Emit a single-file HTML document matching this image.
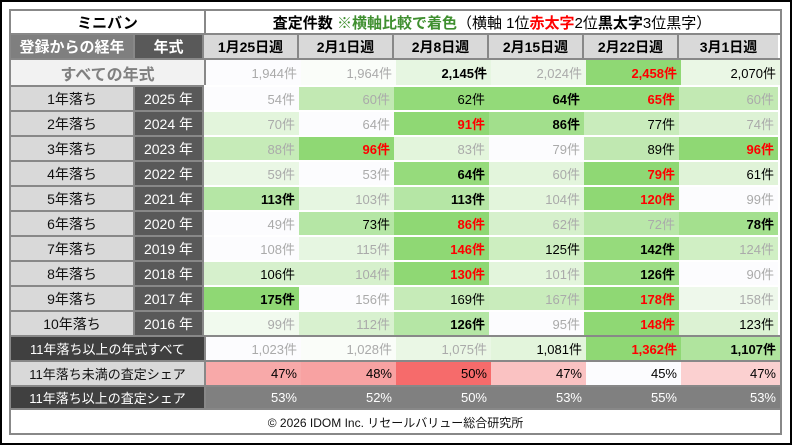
<!DOCTYPE html>
<html><head><meta charset="utf-8"><style>
*{box-sizing:border-box;margin:0;padding:0}
body{width:792px;height:446px;background:#fff;position:relative;overflow:hidden;font-family:"Liberation Sans","Noto Sans CJK JP",sans-serif}
#outer{position:absolute;left:0;top:0;width:792px;height:445px;border:2px solid #000}
#frame{position:absolute;left:9px;top:9px;width:773px;height:426px;border:2px solid #888;background:#fff}
.row{position:absolute;left:11px;width:769px;display:flex}
.c{height:100%;display:flex;align-items:center;justify-content:center;white-space:nowrap}
.l1{width:124px;border-right:2px solid #888}
.l2{width:69px;border-right:2px solid #888}
.l12{width:195px;border-right:2px solid #888}
.d{width:95px;justify-content:flex-end;padding-right:4px;font-size:13px;color:#000}
.d:last-child{width:99px}
.g{color:#aaa}.b{font-weight:bold}.r{color:#f00;font-weight:bold}
.lt{background:#d9d9d9;font-size:14px;color:#111}
.dk{background:#595959;color:#fff;font-size:14px}
.row.data .l1,.row.data .l2{border-top:2px solid #888}
.row.data .d{border-top:2px solid #fff}
</style></head><body>
<div id="outer"></div><div id="frame"></div>

<div class="row" style="top:11px;height:24px;border-bottom:2px solid #888">
<div class="c l12 b" style="font-size:15px">ミニバン</div>
<div class="c" style="width:572px;font-size:15px"><b>査定件数</b>&nbsp;<b style="color:#3f8f2f">※横軸比較で着色</b>（横軸 1位<b style="color:#f00">赤太字</b> 2位<b>黒太字</b> 3位黒字）</div>
</div>

<div class="row" style="top:35px;height:25px;border-bottom:2px solid #888">
<div class="c l1 b" style="background:#7f7f7f;color:#fff;font-size:15px">登録からの経年</div>
<div class="c l2 b" style="background:#595959;color:#fff;font-size:15px">年式</div>
<div class="c b" style="width:95px;background:#d9d9d9;border-right:2px solid #888;font-size:14px">1月25日週</div>
<div class="c b" style="width:95px;background:#d9d9d9;border-right:2px solid #888;font-size:14px">2月1日週</div>
<div class="c b" style="width:95px;background:#d9d9d9;border-right:2px solid #888;font-size:14px">2月8日週</div>
<div class="c b" style="width:95px;background:#d9d9d9;border-right:2px solid #888;font-size:14px">2月15日週</div>
<div class="c b" style="width:95px;background:#d9d9d9;border-right:2px solid #888;font-size:14px">2月22日週</div>
<div class="c b" style="width:99px;background:#d9d9d9;font-size:14px">3月1日週</div>
</div>

<div class="row" style="top:60px;height:25px">
<div class="c l12 b" style="background:#f2f2f2;color:#808080;font-size:16px">すべての年式</div>
<div class="c d g" style="background:#fcfcfe">1,944件</div>
<div class="c d g" style="background:#fafdf9">1,964件</div>
<div class="c d b" style="background:#e6f6e1">2,145件</div>
<div class="c d g" style="background:#eef8eb">2,024件</div>
<div class="c d r" style="background:#8fd874">2,458件</div>
<div class="c d" style="background:#eaf7e5">2,070件</div>
</div>

<div class="row data" style="top:85px;height:25px"><div class="c l1 lt">1年落ち</div><div class="c l2 dk">2025 年</div>
<div class="c d g" style="background:#fcfcfe">54件</div><div class="c d g" style="background:#c2e9b3">60件</div><div class="c d" style="background:#93da79">62件</div><div class="c d b" style="background:#93da79">64件</div><div class="c d r" style="background:#93da79">65件</div><div class="c d g" style="background:#c2e9b3">60件</div></div>

<div class="row data" style="top:110px;height:25px"><div class="c l1 lt">2年落ち</div><div class="c l2 dk">2024 年</div>
<div class="c d g" style="background:#e3f5dc">70件</div><div class="c d g" style="background:#fcfcfe">64件</div><div class="c d r" style="background:#8fd874">91件</div><div class="c d b" style="background:#a2df8c">86件</div><div class="c d" style="background:#c9ecbc">77件</div><div class="c d g" style="background:#ddf2d5">74件</div></div>

<div class="row data" style="top:135px;height:25px"><div class="c l1 lt">3年落ち</div><div class="c l2 dk">2023 年</div>
<div class="c d g" style="background:#c6ebb8">88件</div><div class="c d r" style="background:#8fd874">96件</div><div class="c d g" style="background:#e3f5dc">83件</div><div class="c d g" style="background:#fcfcfe">79件</div><div class="c d" style="background:#c0e8b1">89件</div><div class="c d r" style="background:#8fd874">96件</div></div>

<div class="row data" style="top:160px;height:25px"><div class="c l1 lt">4年落ち</div><div class="c l2 dk">2022 年</div>
<div class="c d g" style="background:#eaf7e5">59件</div><div class="c d g" style="background:#fcfcfe">53件</div><div class="c d b" style="background:#96db7c">64件</div><div class="c d g" style="background:#e3f5dc">60件</div><div class="c d r" style="background:#8fd874">79件</div><div class="c d" style="background:#e0f3d8">61件</div></div>

<div class="row data" style="top:185px;height:25px"><div class="c l1 lt">5年落ち</div><div class="c l2 dk">2021 年</div>
<div class="c d b" style="background:#b5e6a5">113件</div><div class="c d g" style="background:#e6f6e1">103件</div><div class="c d b" style="background:#b5e6a5">113件</div><div class="c d g" style="background:#e3f5dc">104件</div><div class="c d r" style="background:#8fd874">120件</div><div class="c d g" style="background:#fcfcfe">99件</div></div>

<div class="row data" style="top:210px;height:25px"><div class="c l1 lt">6年落ち</div><div class="c l2 dk">2020 年</div>
<div class="c d g" style="background:#fcfcfe">49件</div><div class="c d" style="background:#b5e6a5">73件</div><div class="c d r" style="background:#8fd874">86件</div><div class="c d g" style="background:#d6f0cc">62件</div><div class="c d g" style="background:#b9e7a9">72件</div><div class="c d b" style="background:#a4e08e">78件</div></div>

<div class="row data" style="top:235px;height:25px"><div class="c l1 lt">7年落ち</div><div class="c l2 dk">2019 年</div>
<div class="c d g" style="background:#fcfcfe">108件</div><div class="c d g" style="background:#e6f6e1">115件</div><div class="c d r" style="background:#8fd874">146件</div><div class="c d" style="background:#cdeec0">125件</div><div class="c d b" style="background:#96db7c">142件</div><div class="c d g" style="background:#d0efc4">124件</div></div>

<div class="row data" style="top:260px;height:25px"><div class="c l1 lt">8年落ち</div><div class="c l2 dk">2018 年</div>
<div class="c d" style="background:#d6f0cc">106件</div><div class="c d g" style="background:#d6f0cc">104件</div><div class="c d r" style="background:#8fd874">130件</div><div class="c d g" style="background:#e3f5dc">101件</div><div class="c d b" style="background:#9cdd84">126件</div><div class="c d g" style="background:#fcfcfe">90件</div></div>

<div class="row data" style="top:285px;height:25px"><div class="c l1 lt">9年落ち</div><div class="c l2 dk">2017 年</div>
<div class="c d b" style="background:#8fd874">175件</div><div class="c d g" style="background:#fcfcfe">156件</div><div class="c d" style="background:#c6ebb8">169件</div><div class="c d g" style="background:#c9ecbc">167件</div><div class="c d r" style="background:#8fd874">178件</div><div class="c d g" style="background:#eef8eb">158件</div></div>

<div class="row data" style="top:310px;height:25px"><div class="c l1 lt">10年落ち</div><div class="c l2 dk">2016 年</div>
<div class="c d g" style="background:#f1faee">99件</div><div class="c d g" style="background:#d8f1cf">112件</div><div class="c d b" style="background:#b5e6a5">126件</div><div class="c d g" style="background:#fcfcfe">95件</div><div class="c d r" style="background:#8fd874">148件</div><div class="c d" style="background:#dcf2d3">123件</div></div>

<div class="row" style="top:335px;height:25px;border-top:2px solid #888">
<div class="c l12" style="background:#404040;color:#fff;font-size:13px">11年落ち以上の年式すべて</div>
<div class="c d g" style="background:#fcfcfe">1,023件</div><div class="c d g" style="background:#fafdf9">1,028件</div><div class="c d g" style="background:#eaf7e5">1,075件</div><div class="c d" style="background:#e3f5dc">1,081件</div><div class="c d r" style="background:#8fd874">1,362件</div><div class="c d b" style="background:#b0e49e">1,107件</div></div>

<div class="row" style="top:360px;height:25px;border-top:2px solid #888">
<div class="c l12" style="background:#d9d9d9;color:#111;font-size:13px">11年落ち未満の査定シェア</div>
<div class="c d" style="background:#f8a9a9">47%</div><div class="c d" style="background:#f8a2a2">48%</div><div class="c d" style="background:#f66b6b">50%</div><div class="c d" style="background:#fac2c2">47%</div><div class="c d" style="background:#fcfcfe">45%</div><div class="c d" style="background:#fbd0d0">47%</div></div>

<div class="row" style="top:385px;height:25px;border-top:2px solid #888;border-bottom:2px solid #888">
<div class="c l12" style="background:#404040;color:#fff;font-size:13px">11年落ち以上の査定シェア</div>
<div class="c d" style="background:#808080;color:#fff">53%</div><div class="c d" style="background:#808080;color:#fff">52%</div><div class="c d" style="background:#808080;color:#fff">50%</div><div class="c d" style="background:#808080;color:#fff">53%</div><div class="c d" style="background:#808080;color:#fff">55%</div><div class="c d" style="background:#808080;color:#fff">53%</div></div>

<div class="row" style="top:411px;height:22px;justify-content:center;align-items:center;font-size:12px;color:#111">© 2026 IDOM Inc. リセールバリュー総合研究所</div>
</body></html>
